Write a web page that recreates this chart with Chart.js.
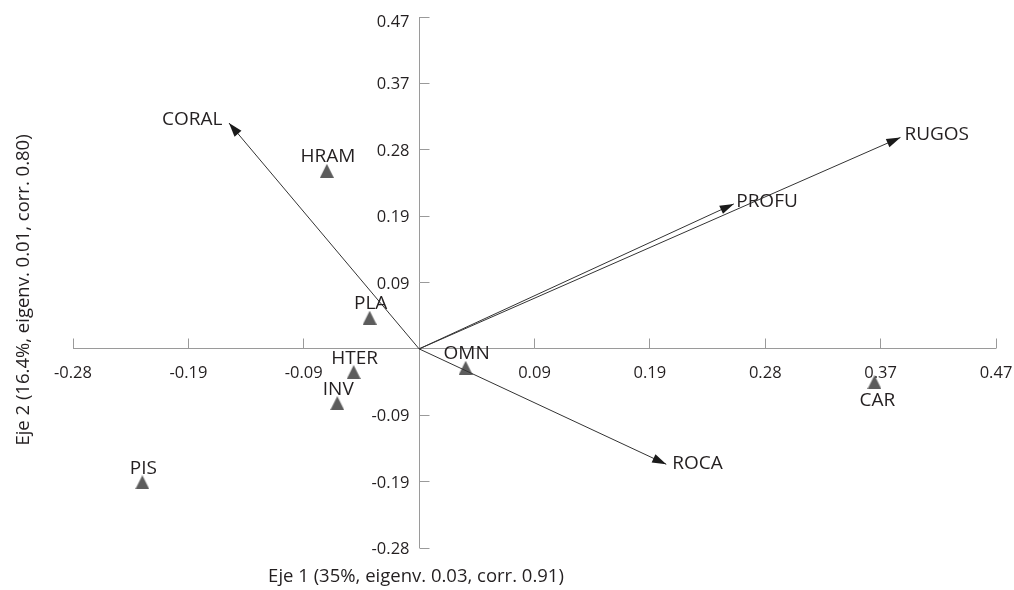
<!DOCTYPE html>
<html><head><meta charset="utf-8">
<script src="https://cdn.jsdelivr.net/npm/chart.js@4.4.1/dist/chart.umd.min.js"></script>
<style>html,body{margin:0;padding:0;background:#fff;} #wrap{width:1014px;height:590px;}</style>
</head><body><div id="wrap"><canvas id="c" width="1014" height="590"></canvas></div>
<script>
// ---- data ----
const pointNames = ['HRAM','PLA','HTER','INV','OMN','CAR','PIS'];
const pointX = [-0.075, -0.0402, -0.0532, -0.0665, 0.0378, 0.370, -0.2249];
const pointY = [0.2515, 0.044, -0.0328, -0.0767, -0.0267, -0.047, -0.1884];
const vectorNames = ['CORAL','RUGOS','PROFU','ROCA'];
const vectorX = [-0.1545, 0.3911, 0.2557, 0.2008];
const vectorY = [0.319, 0.2986, 0.2048, -0.163];
const tickValues = [-0.28125, -0.1875, -0.09375, 0, 0.09375, 0.1875, 0.28125, 0.375, 0.46875];
const tickLabels = ['-0.28', '-0.19', '-0.09', '', '0.09', '0.19', '0.28', '0.37', '0.47'];
const axisMin = -0.28125, axisMax = 0.46875;
const xTitle = 'Eje 1 (35%, eigenv. 0.03, corr. 0.91)';
const yTitle = 'Eje 2 (16.4%, eigenv. 0.01, corr. 0.80)';

// ---- styles ----
const FONT = '"Open Sans", "Noto Sans", sans-serif';
const TEXT = '#231f20';
const AXIS = '#9a9a9a';
const pointLabelOffset = {default: {dx: 1, dy: -8.5}, CAR: {dx: 3, dy: 24}};
const vectorLabelOffset = {CORAL: {dx: -6.6, dy: 1.7, align: 'right'}, RUGOS: {dx: 4, dy: 2.3, align: 'left'},
  PROFU: {dx: 2.4, dy: 2.7, align: 'left'}, ROCA: {dx: 6, dy: 4.3, align: 'left'}};

const tri = document.createElement('canvas');
tri.width = 14; tri.height = 14;
(function(){ const t = tri.getContext('2d'); t.fillStyle = '#5c5c5c'; t.beginPath();
  t.moveTo(7, 0); t.lineTo(14, 14); t.lineTo(0, 14); t.closePath(); t.fill(); })();

const datasets = vectorNames.map((n, i) => ({
  label: n, type: 'line', showLine: true,
  data: [{x: 0, y: 0}, {x: vectorX[i], y: vectorY[i]}],
  borderColor: '#333333', borderWidth: 1, pointRadius: 0, fill: false
}));
datasets.push({
  label: 'puntos', type: 'scatter',
  data: pointNames.map((n, i) => ({x: pointX[i], y: pointY[i]})),
  pointStyle: tri, pointRadius: 7, showLine: false
});

const axesPlugin = {
  id: 'crossAxes',
  beforeDatasetsDraw(chart) {
    const {ctx, scales: {x, y}} = chart;
    const ox = Math.floor(x.getPixelForValue(0)) + 0.5;
    const oy = Math.floor(y.getPixelForValue(0)) + 0.5;
    ctx.save();
    ctx.strokeStyle = AXIS; ctx.lineWidth = 1;
    ctx.beginPath();
    ctx.moveTo(x.getPixelForValue(axisMin), oy); ctx.lineTo(x.getPixelForValue(axisMax), oy);
    ctx.moveTo(ox, y.getPixelForValue(axisMax)); ctx.lineTo(ox, y.getPixelForValue(axisMin));
    tickValues.forEach(v => {
      if (v === 0) return;
      const px = Math.floor(x.getPixelForValue(v)) + 0.5;
      ctx.moveTo(px, oy); ctx.lineTo(px, oy - 10);
      const py = Math.floor(y.getPixelForValue(v)) + 0.5;
      ctx.moveTo(ox, py); ctx.lineTo(ox + 10, py);
    });
    ctx.stroke();
    ctx.fillStyle = TEXT;
    ctx.font = '16.5px ' + FONT;
    ctx.textBaseline = 'alphabetic';
    tickValues.forEach((v, i) => {
      if (!tickLabels[i]) return;
      ctx.textAlign = 'center';
      ctx.fillText(tickLabels[i], x.getPixelForValue(v), oy + 29.5);
      ctx.textAlign = 'right';
      let py = y.getPixelForValue(v) + 6;
      if (py < 27) py = 27;
      ctx.fillText(tickLabels[i], ox - 10, py);
    });
    ctx.font = '18.5px ' + FONT;
    ctx.textAlign = 'center';
    ctx.fillText(xTitle, 416, 582);
    ctx.save();
    ctx.translate(29, 290);
    ctx.rotate(-Math.PI / 2);
    ctx.textAlign = 'center';
    ctx.fillText(yTitle, 0, 0);
    ctx.restore();
    ctx.restore();
  },
  afterDatasetsDraw(chart) {
    const {ctx} = chart;
    ctx.save();
    ctx.fillStyle = '#1a1a1a';
    vectorNames.forEach((n, i) => {
      const meta = chart.getDatasetMeta(i);
      const p0 = meta.data[0], p1 = meta.data[1];
      const ang = Math.atan2(p1.y - p0.y, p1.x - p0.x);
      const L = 14, W = 4.5;
      ctx.beginPath();
      ctx.moveTo(p1.x, p1.y);
      ctx.lineTo(p1.x - L * Math.cos(ang) + W * Math.sin(ang), p1.y - L * Math.sin(ang) - W * Math.cos(ang));
      ctx.lineTo(p1.x - L * Math.cos(ang) - W * Math.sin(ang), p1.y - L * Math.sin(ang) + W * Math.cos(ang));
      ctx.closePath();
      ctx.fill();
    });
    ctx.fillStyle = TEXT;
    ctx.font = '19px ' + FONT;
    ctx.textBaseline = 'alphabetic';
    vectorNames.forEach((n, i) => {
      const p1 = chart.getDatasetMeta(i).data[1];
      const o = vectorLabelOffset[n];
      ctx.textAlign = o.align;
      ctx.fillText(n, p1.x + o.dx, p1.y + o.dy);
    });
    const pm = chart.getDatasetMeta(vectorNames.length);
    pointNames.forEach((n, i) => {
      const el = pm.data[i];
      const o = pointLabelOffset[n] || pointLabelOffset.default;
      ctx.textAlign = 'center';
      ctx.fillText(n, el.x + o.dx, el.y + o.dy);
    });
    ctx.restore();
  }
};

new Chart(document.getElementById('c'), {
  type: 'scatter',
  data: {datasets},
  options: {
    responsive: false, animation: false,
    layout: {padding: {left: 73, right: 18, top: 17, bottom: 42}},
    scales: {
      x: {type: 'linear', min: axisMin, max: axisMax, display: false},
      y: {type: 'linear', min: axisMin, max: axisMax, display: false}
    },
    plugins: {legend: {display: false}, tooltip: {enabled: false}}
  },
  plugins: [axesPlugin]
});
</script></body></html>
